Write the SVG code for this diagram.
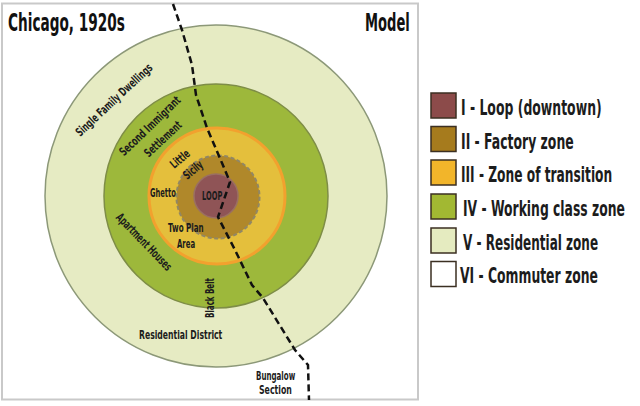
<svg xmlns="http://www.w3.org/2000/svg" width="640" height="406" viewBox="0 0 640 406">
<style>
.t{font-family:"DejaVu Sans Condensed","Liberation Sans Narrow","Liberation Sans",sans-serif;font-weight:bold;fill:#1c1c1c}
.lbl{font-size:12px}
.lg{font-size:22px}
.ttl{font-size:24px;fill:#111}
.sw{stroke:#3b2f22;stroke-width:1.5}
</style>
<rect x="0" y="0" width="640" height="406" fill="#ffffff"/>
<rect id="frame" x="2" y="3.5" width="416" height="396" fill="#ffffff" stroke="#c9c9c9" stroke-width="2"/>

<g id="zone-V"><circle cx="216" cy="196" r="171" fill="#e6ebc3" stroke="#8c9878" stroke-width="1.5"/></g>
<g id="zone-IV"><circle cx="216" cy="196" r="112" fill="#9db83b" stroke="#7e8d46" stroke-width="1.5"/></g>
<g id="zone-III"><circle cx="217" cy="196" r="68" fill="#e4bf3c" stroke="#f2a12e" stroke-width="3"/></g>
<g id="zone-II"><circle cx="218" cy="197" r="41.5" fill="#b0882a" stroke="#918765" stroke-width="2" stroke-dasharray="4 2.5"/></g>
<g id="zone-I"><circle cx="216" cy="196" r="22" fill="#8f5456" stroke="#9a6f62" stroke-width="1.5"/></g>

<g id="connectors">
<polyline points="173,4 182,30 192,65 196,95 207,128 222,163 230,182 218,217 235,250 252,285 263,298 295,350 308,365 309,400" fill="none" stroke="#111" stroke-width="2.5" stroke-dasharray="7 4"/>
</g>

<g id="labels">
<text class="t ttl" transform="translate(8,31) scale(0.7,1)" textLength="167" lengthAdjust="spacingAndGlyphs">Chicago, 1920s</text>
<text class="t ttl" transform="translate(365,31) scale(0.7,1)" textLength="64" lengthAdjust="spacingAndGlyphs">Model</text>
<text class="t lbl" transform="translate(114,100) rotate(-43) scale(0.7,1)" text-anchor="middle" dy="4" textLength="143" lengthAdjust="spacingAndGlyphs">Single Family Dwellings</text>
<text class="t lbl" transform="translate(150,126) rotate(-44) scale(0.7,1)" text-anchor="middle" dy="4" textLength="114" lengthAdjust="spacingAndGlyphs">Second Immigrant</text>
<text class="t lbl" transform="translate(163,139) rotate(-43) scale(0.7,1)" text-anchor="middle" dy="4" textLength="66" lengthAdjust="spacingAndGlyphs">Settlement</text>
<text class="t lbl" transform="translate(180,159) rotate(-40) scale(0.7,1)" text-anchor="middle" dy="4" textLength="31" lengthAdjust="spacingAndGlyphs">Little</text>
<text class="t lbl" transform="translate(193,170) rotate(-40) scale(0.7,1)" text-anchor="middle" dy="4" textLength="31" lengthAdjust="spacingAndGlyphs">Sicily</text>
<text class="t lbl" transform="translate(150,197) scale(0.7,1)" textLength="37" lengthAdjust="spacingAndGlyphs">Ghetto</text>
<text class="t lbl" transform="translate(202,200) scale(0.7,1)" textLength="29" lengthAdjust="spacingAndGlyphs">LOOP</text>
<text class="t lbl" transform="translate(168,232) scale(0.7,1)" textLength="51" lengthAdjust="spacingAndGlyphs">Two Plan</text>
<text class="t lbl" transform="translate(177,248) scale(0.7,1)" textLength="26" lengthAdjust="spacingAndGlyphs">Area</text>
<text class="t lbl" transform="translate(144,242) rotate(46) scale(0.7,1)" text-anchor="middle" dy="4" textLength="106" lengthAdjust="spacingAndGlyphs">Apartment Houses</text>
<text class="t lbl" transform="translate(210,298) rotate(-90) scale(0.7,1)" text-anchor="middle" dy="4" textLength="57" lengthAdjust="spacingAndGlyphs">Black Belt</text>
<text class="t lbl" transform="translate(139,339) scale(0.7,1)" textLength="119" lengthAdjust="spacingAndGlyphs">Residential District</text>
<text class="t lbl" transform="translate(256,380) scale(0.7,1)" textLength="56" lengthAdjust="spacingAndGlyphs">Bungalow</text>
<text class="t lbl" transform="translate(259,394) scale(0.7,1)" textLength="47" lengthAdjust="spacingAndGlyphs">Section</text>
</g>

<g id="legend">
<g id="legend-I"><rect class="sw" x="431" y="93" width="25" height="25" fill="#8c4b4a"/><text class="t lg" transform="translate(461,115) scale(0.7,1)" textLength="201" lengthAdjust="spacingAndGlyphs">I - Loop (downtown)</text></g>
<g id="legend-II"><rect class="sw" x="431" y="126.5" width="25" height="25" fill="#a67b1d"/><text class="t lg" transform="translate(461,148.5) scale(0.7,1)" textLength="161" lengthAdjust="spacingAndGlyphs">II - Factory zone</text></g>
<g id="legend-III"><rect class="sw" x="431" y="160" width="25" height="25" fill="#f2b52a"/><text class="t lg" transform="translate(461,182) scale(0.7,1)" textLength="216" lengthAdjust="spacingAndGlyphs">III - Zone of transition</text></g>
<g id="legend-IV"><rect class="sw" x="431" y="194" width="25" height="25" fill="#a2b832"/><text class="t lg" transform="translate(463,216) scale(0.62,1)" textLength="261" lengthAdjust="spacingAndGlyphs">IV - Working class zone</text></g>
<g id="legend-V"><rect class="sw" x="431" y="228" width="25" height="25" fill="#e5ebc0"/><text class="t lg" transform="translate(463,249.5) scale(0.7,1)" textLength="193" lengthAdjust="spacingAndGlyphs">V - Residential zone</text></g>
<g id="legend-VI"><rect class="sw" x="431" y="261.5" width="25" height="25" fill="#ffffff"/><text class="t lg" transform="translate(460,283) scale(0.7,1)" textLength="197" lengthAdjust="spacingAndGlyphs">VI - Commuter zone</text></g>
</g>
</svg>
